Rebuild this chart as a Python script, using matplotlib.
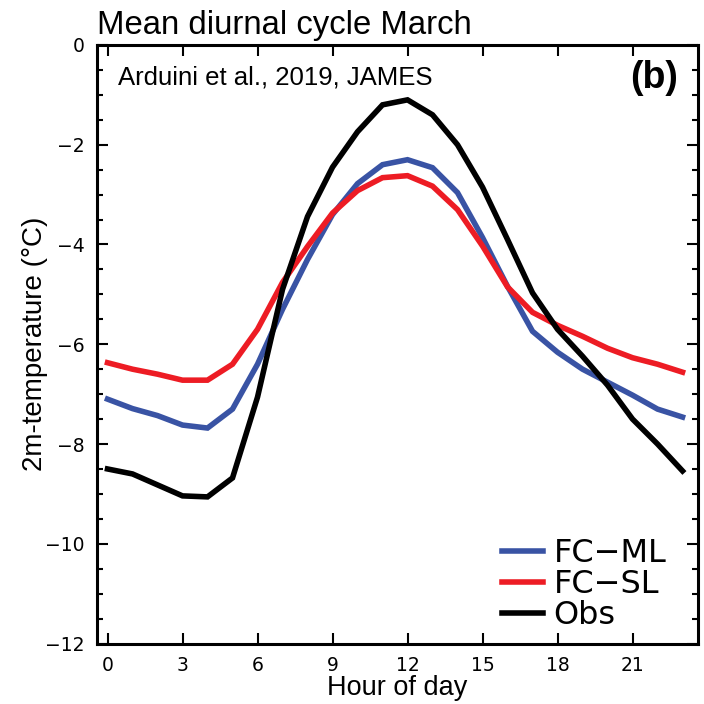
import numpy as np
import matplotlib
matplotlib.use("Agg")
import matplotlib.pyplot as plt
from matplotlib.ticker import MultipleLocator

plt.rcParams['font.family'] = ['Liberation Sans', 'DejaVu Sans']

# hours 0..23, mean diurnal cycle of 2m temperature (deg C)
hours = np.arange(24)
fc_ml = [-7.10, -7.29, -7.43, -7.62, -7.68, -7.30, -6.40, -5.30, -4.30, -3.40,
         -2.78, -2.40, -2.30, -2.46, -2.96, -3.86, -4.84, -5.74, -6.16, -6.50,
         -6.76, -7.02, -7.30, -7.46]
fc_sl = [-6.37, -6.50, -6.60, -6.72, -6.72, -6.40, -5.70, -4.76, -4.04, -3.37,
         -2.92, -2.66, -2.62, -2.83, -3.30, -4.03, -4.85, -5.36, -5.62, -5.84,
         -6.08, -6.27, -6.40, -6.56]
obs = [-8.50, -8.60, -8.82, -9.04, -9.06, -8.68, -7.06, -4.90, -3.44, -2.45,
       -1.74, -1.20, -1.10, -1.40, -2.00, -2.85, -3.90, -4.97, -5.70, -6.24,
       -6.82, -7.50, -8.00, -8.54]

series = [("FC\u2212ML", fc_ml, "#3953a4"),
          ("FC\u2212SL", fc_sl, "#ed1c24"),
          ("Obs", obs, "black")]

fig = plt.figure(figsize=(7.04, 7.04), dpi=100)
ax = fig.add_axes([0.1378, 0.0859, 0.853, 0.8502])

for name, vals, col in series:
    ax.plot(hours, vals, color=col, lw=4.0, label=name, solid_joinstyle='miter')

ax.set_xlim(-0.42, 23.6)
ax.set_ylim(-12, 0)
ax.xaxis.set_major_locator(MultipleLocator(3))
ax.yaxis.set_major_locator(MultipleLocator(2))
ax.yaxis.set_minor_locator(MultipleLocator(0.5))
ax.tick_params(which='both', direction='in', top=True, right=True, width=1.5)
ax.tick_params(which='major', length=8, labelsize=13.5, pad=9)
ax.tick_params(which='minor', length=4)
for lab in ax.get_xticklabels() + ax.get_yticklabels():
    lab.set_family('DejaVu Sans')
for s in ax.spines.values():
    s.set_linewidth(2.2)

ax.set_xlabel("Hour of day", fontsize=19.5, labelpad=0)
ax.set_ylabel("2m-temperature (\u00b0C)", fontsize=20, labelpad=-2)
ax.set_title("Mean diurnal cycle March", fontsize=23.7, loc='left', pad=8)

ax.text(0.035, 0.965, "Arduini et al., 2019, JAMES", transform=ax.transAxes,
        fontsize=18.5, va='top', ha='left')
ax.text(0.967, 0.975, "(b)", transform=ax.transAxes, fontsize=27,
        fontweight='bold', va='top', ha='right')

leg = ax.legend(loc='lower left', bbox_to_anchor=(0.674, 0.021), frameon=False,
                prop={'family': 'DejaVu Sans', 'size': 23},
                handlelength=1.28, handletextpad=0.34,
                labelspacing=0.0, borderpad=0, borderaxespad=0)
for h in leg.get_lines():
    h.set_linewidth(4.0)

fig.savefig("out.png", dpi=100)
